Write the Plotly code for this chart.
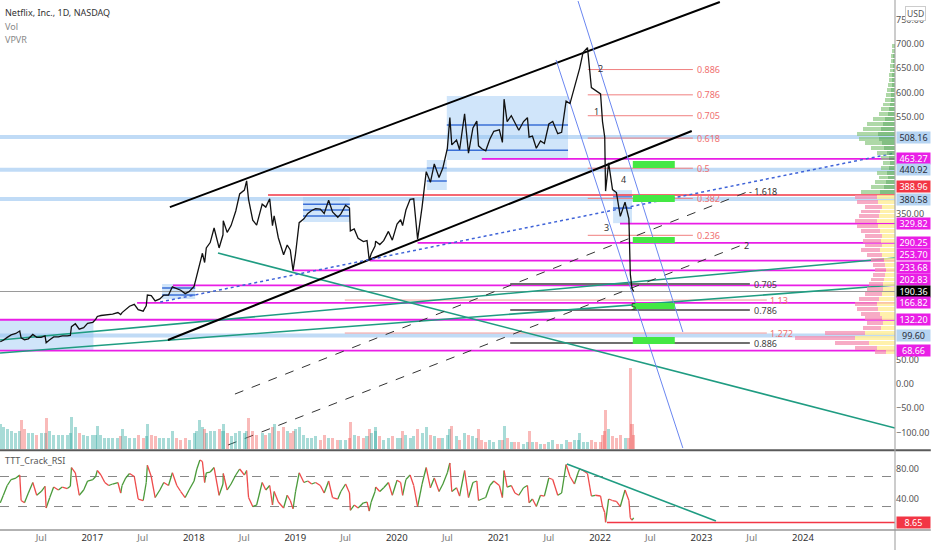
import plotly.graph_objects as go

# ---------------- price / volume / RSI (semi-monthly approximations) ----------------
dates = [
    "2016-02-05","2016-02-16","2016-03-01","2016-03-15","2016-04-01","2016-04-15","2016-04-20","2016-05-02",
    "2016-05-16","2016-06-01","2016-06-15","2016-07-01","2016-07-15","2016-07-19","2016-08-01","2016-08-15",
    "2016-09-01","2016-09-15","2016-10-03","2016-10-14","2016-10-18","2016-11-01","2016-11-15","2016-12-01",
    "2016-12-15",
    "2017-01-03","2017-01-13","2017-01-19","2017-02-01","2017-02-15","2017-03-01","2017-03-15","2017-04-03",
    "2017-04-13","2017-04-18","2017-05-01","2017-05-15","2017-06-01","2017-06-15","2017-07-03","2017-07-14",
    "2017-07-18","2017-08-01","2017-08-15","2017-09-01","2017-09-15","2017-10-02","2017-10-16","2017-11-01",
    "2017-11-15","2017-12-01","2017-12-15",
    "2018-01-02","2018-01-12","2018-01-23","2018-02-01","2018-02-09","2018-02-15","2018-03-01","2018-03-15",
    "2018-04-02","2018-04-16","2018-04-17","2018-05-01","2018-05-15","2018-06-01","2018-06-15","2018-07-02",
    "2018-07-10","2018-07-17","2018-08-01","2018-08-15","2018-09-04","2018-09-17","2018-10-01","2018-10-11",
    "2018-10-17","2018-11-01","2018-11-20","2018-12-03","2018-12-14","2018-12-24",
    "2019-01-02","2019-01-15","2019-02-01","2019-02-15","2019-03-01","2019-03-15","2019-04-01","2019-04-15",
    "2019-05-01","2019-05-15","2019-06-03","2019-06-14","2019-07-01","2019-07-15","2019-07-18","2019-08-01",
    "2019-08-15","2019-09-03","2019-09-16","2019-09-24","2019-10-01","2019-10-15","2019-10-17","2019-11-01",
    "2019-11-15","2019-12-02","2019-12-16",
    "2020-01-02","2020-01-15","2020-01-22","2020-02-03","2020-02-18","2020-03-02","2020-03-16","2020-04-01",
    "2020-04-16","2020-05-01","2020-05-15","2020-06-01","2020-06-15","2020-07-01","2020-07-10","2020-07-17",
    "2020-08-03","2020-08-14","2020-09-01","2020-09-15","2020-10-01","2020-10-15","2020-10-21","2020-11-02",
    "2020-11-16","2020-12-01","2020-12-15",
    "2021-01-04","2021-01-15","2021-01-21","2021-02-01","2021-02-16","2021-03-01","2021-03-15","2021-04-01",
    "2021-04-15","2021-04-21","2021-05-03","2021-05-17","2021-06-01","2021-06-15","2021-07-01","2021-07-15",
    "2021-08-02","2021-08-16","2021-09-01","2021-09-15","2021-10-01","2021-10-15","2021-10-20","2021-11-01",
    "2021-11-17","2021-12-01","2021-12-15",
    "2022-01-03","2022-01-10","2022-01-18","2022-01-21","2022-02-01","2022-02-15","2022-03-01","2022-03-15",
    "2022-04-01","2022-04-15","2022-04-20","2022-04-26","2022-05-02",
]
close = [
    87, 90, 96, 101, 104, 109, 95, 91, 93, 102, 96, 96, 99, 85, 91, 97, 97, 99, 99, 100, 118, 124, 113, 116, 125,
    127, 133, 139, 141, 142, 142, 144, 147, 143, 147, 153, 160, 164, 153, 150, 161, 183, 182, 171, 175, 183, 183,
    200, 196, 193, 186, 190,
    201, 222, 250, 269, 250, 280, 291, 321, 280, 307, 336, 312, 326, 356, 391, 399, 418, 380, 337, 327, 370, 364,
    381, 326, 346, 301, 266, 286, 276, 233,
    268, 332, 340, 351, 357, 361, 360, 351, 378, 354, 343, 350, 368, 362, 315, 319, 300, 293, 295, 255, 268, 284,
    294, 287, 295, 314, 296,
    329, 338, 326, 358, 380, 381, 298, 364, 437, 415, 453, 425, 445, 485, 548, 492, 502, 482, 556, 475, 527, 541,
    490, 484, 480, 504, 520,
    523, 497, 586, 540, 552, 538, 522, 540, 548, 508, 510, 485, 500, 495, 535, 540, 515, 518, 582, 577, 610, 640,
    650, 682, 692, 610, 605,
    597, 540, 508, 397, 455, 400, 394, 345, 374, 340, 226, 197, 190.36,
]
volume = [
    14, 12, 11, 10, 9, 10, 16, 11, 9, 9, 8, 9, 9, 17, 10, 8, 8, 8, 8, 9, 18, 12, 9, 8, 7,
    8, 8, 13, 8, 6, 6, 6, 6, 7, 11, 7, 6, 6, 8, 6, 7, 14, 8, 7, 6, 6, 6, 10, 6, 5, 6, 5,
    9, 10, 16, 12, 11, 9, 10, 10, 11, 10, 14, 9, 7, 9, 10, 9, 10, 17, 10, 8, 9, 8, 9, 12, 14, 10, 12, 10, 9, 10,
    11, 12, 8, 6, 6, 7, 5, 8, 6, 6, 5, 5, 5, 6, 15, 8, 7, 6, 7, 11, 9, 10, 12, 7, 5, 6, 7,
    6, 6, 10, 8, 6, 7, 11, 9, 12, 8, 7, 6, 6, 8, 11, 13, 7, 5, 9, 8, 7, 6, 11, 5, 4, 5, 4,
    5, 5, 13, 6, 4, 4, 4, 3, 4, 10, 4, 4, 3, 3, 4, 5, 3, 3, 5, 4, 5, 5, 9, 4, 4, 5, 4,
    4, 8, 10, 22, 11, 7, 6, 8, 6, 6, 45, 14, 8,
]
rsi = [
    35, 45, 58, 66, 68, 72, 38, 35, 48, 62, 45, 50, 57, 28, 42, 56, 52, 56, 54, 57, 82, 75, 45, 52, 64,
    66, 70, 78, 72, 62, 58, 60, 62, 48, 58, 68, 74, 70, 40, 38, 62, 85, 70, 42, 52, 62, 58, 75, 58, 50, 42, 52,
    64, 80, 92, 90, 62, 75, 76, 82, 45, 60, 74, 52, 60, 72, 80, 72, 78, 42, 30, 32, 62, 52, 58, 32, 50, 36, 28,
    45, 38, 27,
    50, 75, 62, 64, 60, 62, 58, 48, 64, 42, 40, 50, 60, 48, 25, 32, 28, 35, 36, 24, 36, 50, 56, 50, 55, 62, 45,
    65, 62, 45, 66, 72, 58, 30, 60, 82, 55, 68, 50, 60, 75, 88, 50, 55, 44, 78, 42, 62, 64, 38, 40, 42, 58, 64,
    58, 42, 78, 56, 58, 48, 45, 55, 58, 35, 40, 30, 45, 44, 68, 66, 45, 48, 86, 70, 60, 76, 80, 78, 74, 44, 45,
    44, 30, 22, 9, 40, 38, 37, 30, 52, 38, 15, 12, 15,
]

# ---------------- volume profile (VPVR) ----------------
vp_price = [65, 75, 85, 95, 105, 115, 125, 135, 145, 155, 165, 175, 185, 195, 205, 215, 225, 235, 245, 255,
            265, 275, 285, 295, 305, 315, 325, 335, 345, 355, 365, 375, 385, 395, 405, 415, 425, 435, 445, 455,
            465, 475, 485, 495, 505, 515, 525, 535, 545, 555, 565, 575, 585, 595, 605, 615, 625, 635, 645, 655,
            665, 675, 685, 695]
vp_up = [9, 18, 26, 40, 30, 14, 12, 13, 15, 17, 18, 16, 13, 12, 12, 11, 10, 9, 10, 11,
         13, 15, 13, 14, 13, 15, 17, 18, 16, 15, 13, 17, 18, 15, 11, 9, 7, 8, 6, 5,
         6, 8, 11, 13, 16, 17, 14, 12, 10, 7, 6, 5, 4, 4, 4, 3, 3, 3, 2, 2, 2, 2, 1, 1]
vp_down = [11, 22, 34, 60, 40, 18, 16, 17, 19, 21, 22, 20, 17, 16, 14, 13, 12, 11, 12, 13,
           15, 19, 17, 18, 17, 19, 21, 22, 20, 19, 17, 21, 22, 19, 13, 11, 9, 10, 8, 7,
           8, 10, 13, 17, 20, 21, 18, 16, 12, 9, 8, 7, 6, 5, 4, 4, 3, 3, 3, 3, 2, 2, 2, 2]

# ---------------- drawings (data units: date, price) ----------------
channel_upper = (["2017-10-07", "2023-03-08"], [364, 786])
channel_mid = (["2017-09-30", "2022-11-27"], [90.5, 520.6])
teal_down = (["2018-03-29", "2024-11-27"], [269.5, -90.5])
teal_up_a = (["2016-02-04", "2024-11-27"], [90.5, 259.3])
teal_up_b = (["2016-02-04", "2024-11-27"], [63.8, 203.7])
blue_dotted = (["2017-09-02", "2024-11-27"], [168.7, 475.3])
dashed_1618 = (["2018-05-29", "2023-06-14"], [-20.6, 395.1])
dashed_2 = (["2018-05-04", "2023-05-27"], [-125.5, 286.0])
blue_ch_left = (["2021-07-27", "2022-10-26"], [666.7, -131.7])
blue_ch_right = (["2021-10-14", "2022-10-26"], [788, 107])

magenta_levels = [463.27, 329.82, 290.25, 253.70, 233.68, 202.83, 166.82, 132.20, 68.66]
magenta_starts = ["2020-11-02", "2022-03-14", "2020-03-16", "2019-09-26", "2018-12-24", "2017-10-18",
                  "2017-06-11", "2016-02-04", "2016-02-04"]
lightblue_levels = [508.16, 440.92, 380.58, 99.60]
red_level = 388.96
red_level_start = "2018-09-25"
last_price = 190.36

fib_red_labels = ["0.886", "0.786", "0.705", "0.618", "0.5", "0.382", "0.236"]
fib_red_prices = [647, 595, 552, 506, 444, 382, 306]
fib_red_span = ["2021-11-18", "2022-12-01"]
fib_red_label_x = "2022-12-10"

fib_gray_labels = ["0.705", "0.786", "0.886"]
fib_gray_prices = [205.8, 152.3, 84.4]
fib_gray_span = ["2021-02-12", "2023-06-24"]
fib_gray_label_x = "2023-06-30"

fib_ext_labels = ["1.13", "1.272"]
fib_ext_prices = [172.8, 104.9]
fib_ext_span = ["2019-06-28", "2023-08-24"]
fib_ext_label_x = "2023-08-30"

green_box_x = ["2022-04-29", "2022-09-27"]
green_box_y = [(444.4, 458.8), (374.5, 388.9), (290.1, 302.5), (154.3, 166.7), (82.3, 96.7)]

blue_boxes = [
    ("2016-02-04", "2017-01-05", 67.9, 131.7, []),
    ("2017-09-09", "2018-01-06", 174.9, 205.8, [183, 197.5]),
    ("2019-01-29", "2019-07-16", 333.3, 384.8, [345.7, 358, 370]),
    ("2020-04-18", "2020-06-29", 399.2, 460.9, [417.7, 444]),
    ("2020-06-29", "2021-09-08", 460.9, 592.6, [481, 533]),
    ("2022-02-17", "2022-04-26", 331, 399, [362, 384.8]),
]

wave_labels = ["1", "2", "3", "4", "5"]
wave_dates = ["2021-12-20", "2022-01-01", "2022-01-26", "2022-03-28", "2022-05-03"]
wave_prices = [561.7, 650, 323, 419.8, 160.5]

rsi_trend = (["2021-09-04", "2023-02-22"], [86.7, 10.7])
rsi_floor = (["2022-01-26", "2024-11-27"], [8.65, 8.65])
rsi_bands = [70, 30]

axis_labels = [508.16, 463.27, 440.92, 388.96, 380.58, 329.82, 290.25, 253.70, 233.68, 202.83,
               190.36, 166.82, 132.20, 99.60, 68.66]
axis_label_shift = {388.96: 8, 253.70: 6, 233.68: 3, 202.83: 6}
price_ticks = [-100, -50, 0, 50, 350, 550, 600, 650, 700, 750]

x_range = ["2016-02-04", "2024-11-27"]
tick_dates = ["2016-07-01", "2017-01-01", "2017-07-01", "2018-01-01", "2018-07-01", "2019-01-01", "2019-07-01",
              "2020-01-01", "2020-07-01", "2021-01-01", "2021-07-01", "2022-01-01", "2022-07-01", "2023-01-01",
              "2023-07-01", "2024-01-01"]
tick_text = ["Jul", "2017", "Jul", "2018", "Jul", "2019", "Jul", "2020", "Jul", "2021", "Jul", "2022", "Jul",
             "2023", "Jul", "2024"]

MAGENTA = "#e91ee6"
LIGHTBLUE = "#b6d4f2"
TEAL = "#1f9c82"
FONT = "Noto Sans"

fig = go.Figure()
shapes = []
annotations = []


def line(xs, ys, color, width=1.0, dash="solid", yaxis="y", opacity=1.0):
    fig.add_trace(go.Scatter(x=xs, y=ys, mode="lines", yaxis=yaxis, hoverinfo="skip", showlegend=False,
                             opacity=opacity, line=dict(color=color, width=width, dash=dash)))


# volume profile (horizontal bars from right edge)
up_colors = ["rgba(90,170,90,0.75)" if p >= 390 else "rgba(255,238,150,0.8)" for p in vp_price]
down_colors = ["rgba(140,200,130,0.7)" if p >= 390 else "rgba(244,143,177,0.75)" for p in vp_price]
fig.add_trace(go.Bar(x=vp_up, y=vp_price, orientation="h", xaxis="x2", yaxis="y", width=8,
                     marker=dict(color=up_colors, line=dict(width=0)), hoverinfo="skip", showlegend=False))
fig.add_trace(go.Bar(x=vp_down, y=vp_price, orientation="h", xaxis="x2", yaxis="y", width=8,
                     marker=dict(color=down_colors, line=dict(width=0)), hoverinfo="skip", showlegend=False))

# volume bars
vol_colors = ["rgba(38,166,154,0.4)" if i == 0 or close[i] >= close[i - 1] else "rgba(239,83,80,0.4)"
              for i in range(len(close))]
fig.add_trace(go.Bar(x=dates, y=volume, yaxis="y3", marker=dict(color=vol_colors, line=dict(width=0)),
                     width=11 * 86400000, hoverinfo="skip", showlegend=False))

# blue consolidation boxes
for x0, x1, y0, y1, inner in blue_boxes:
    shapes.append(dict(type="rect", xref="x", yref="y", x0=x0, x1=x1, y0=y0, y1=y1,
                       fillcolor="rgba(120,180,240,0.35)", line=dict(width=0), layer="below"))
    for lv in inner:
        line([x0, x1], [lv, lv], "#3b6fd6", 1.5)

# light blue levels
for lv in lightblue_levels:
    line(x_range, [lv, lv], "rgba(150,195,240,0.6)", 4)

# current price line
line(x_range, [last_price, last_price], "#9a9a9a", 1)

# magenta levels
for lv, st in zip(magenta_levels, magenta_starts):
    line([st, x_range[1]], [lv, lv], MAGENTA, 1.8)

# red level
line([red_level_start, x_range[1]], [red_level, red_level], "#f23645", 1.5)

# green target boxes
for y0, y1 in green_box_y:
    shapes.append(dict(type="rect", xref="x", yref="y", x0=green_box_x[0], x1=green_box_x[1], y0=y0, y1=y1,
                       fillcolor="#44e844", line=dict(width=0)))

# fib levels
for lab, p in zip(fib_red_labels, fib_red_prices):
    line(fib_red_span, [p, p], "#f07f7f", 1)
    annotations.append(dict(x=fib_red_label_x, y=p, xref="x", yref="y", text=lab, showarrow=False,
                            xanchor="left", font=dict(size=9, color="#f07070", family=FONT)))
for lab, p in zip(fib_gray_labels, fib_gray_prices):
    line(fib_gray_span, [p, p], "#6f6f6f", 1.8)
    annotations.append(dict(x=fib_gray_label_x, y=p, xref="x", yref="y", text=lab, showarrow=False,
                            xanchor="left", font=dict(size=9, color="#444", family=FONT)))
for lab, p in zip(fib_ext_labels, fib_ext_prices):
    line(fib_ext_span, [p, p], "#f29a9a", 1)
    annotations.append(dict(x=fib_ext_label_x, y=p, xref="x", yref="y", text=lab, showarrow=False,
                            xanchor="left", font=dict(size=9, color="#f07070", family=FONT)))

# trend lines
line(*teal_down, TEAL, 1.6)
line(*teal_up_a, TEAL, 1.6)
line(*teal_up_b, TEAL, 1.6)
line(*channel_upper, "#000", 2)
line(*channel_mid, "#000", 2)
line(*blue_dotted, "#3f63d8", 1.5, "dot")
line(*dashed_1618, "#333", 1, "dash")
line(*dashed_2, "#333", 1, "dash")
line(*blue_ch_left, "#6a86f0", 1)
line(*blue_ch_right, "#6a86f0", 1)
annotations.append(dict(x=dashed_1618[0][1], y=dashed_1618[1][1], xref="x", yref="y", text="- 1.618",
                        showarrow=False, xanchor="left", font=dict(size=9, color="#333", family=FONT)))
annotations.append(dict(x=dashed_2[0][1], y=dashed_2[1][1], xref="x", yref="y", text="2",
                        showarrow=False, xanchor="left", font=dict(size=9, color="#333", family=FONT)))

# price
line(dates, close, "#111", 1.3)

for t, d, p in zip(wave_labels, wave_dates, wave_prices):
    annotations.append(dict(x=d, y=p, xref="x", yref="y", text=t, showarrow=False,
                            font=dict(size=9, color="#333", family=FONT)))

# RSI pane
for lv in rsi_bands:
    line(x_range, [lv, lv], "#888", 1, "dash", yaxis="y2")
gx, gy, rx, ry = [], [], [], []
for i in range(1, len(rsi)):
    if rsi[i] >= rsi[i - 1]:
        gx += [dates[i - 1], dates[i], None]; gy += [rsi[i - 1], rsi[i], None]
    else:
        rx += [dates[i - 1], dates[i], None]; ry += [rsi[i - 1], rsi[i], None]
line(gx, gy, "#4a9a3a", 1.3, yaxis="y2")
line(rx, ry, "#ee4b4b", 1.3, yaxis="y2")
line(*rsi_trend, TEAL, 1.6, yaxis="y2")
line(*rsi_floor, "#f23645", 1.6, yaxis="y2")

# right axis price labels
for v in axis_labels:
    if v in (508.16, 440.92, 380.58, 99.60):
        bg, fc = LIGHTBLUE, "#2a2e39"
    elif v == 388.96:
        bg, fc = "#f23645", "#fff"
    elif v == 190.36:
        bg, fc = "#000", "#fff"
    else:
        bg, fc = MAGENTA, "#fff"
    annotations.append(dict(x=1, y=v, xref="paper", yref="y", text=f"{v:.2f}", showarrow=False,
                            xanchor="left", xshift=1, yshift=axis_label_shift.get(v, 0), bgcolor=bg,
                            width=33, height=11, borderpad=0, font=dict(size=9, color=fc, family=FONT)))
annotations.append(dict(x=1, y=8.65, xref="paper", yref="y2", text="8.65", showarrow=False, xanchor="left",
                        xshift=1, bgcolor="#f23645", width=33, height=11, borderpad=0,
                        font=dict(size=9, color="#fff", family=FONT)))

# header texts
annotations += [
    dict(x=0, y=1, xref="paper", yref="paper", xanchor="left", yanchor="top", xshift=3, yshift=-4,
         text="Netflix, Inc., 1D, NASDAQ", showarrow=False, font=dict(size=9, color="#333", family=FONT)),
    dict(x=0, y=1, xref="paper", yref="paper", xanchor="left", yanchor="top", xshift=3, yshift=-18,
         text="Vol", showarrow=False, font=dict(size=9, color="#888", family=FONT)),
    dict(x=0, y=1, xref="paper", yref="paper", xanchor="left", yanchor="top", xshift=3, yshift=-31,
         text="VPVR", showarrow=False, font=dict(size=9, color="#888", family=FONT)),
    dict(x=0, y=0.131, xref="paper", yref="paper", xanchor="left", yanchor="middle", xshift=3,
         text="TTT_Crack_RSI", showarrow=False, font=dict(size=9, color="#555", family=FONT)),
    dict(x=1, y=1, xref="paper", yref="paper", xanchor="left", yanchor="top", xshift=10, yshift=-6,
         text="USD", showarrow=False, bordercolor="#ccc", borderwidth=1, borderpad=1, bgcolor="white",
         font=dict(size=8.5, color="#555", family=FONT)),
]

# pane separators / axis lines
shapes += [
    dict(type="line", xref="paper", yref="paper", x0=0, x1=1.04, y0=0.1505, y1=0.1505,
         line=dict(color="#5a5a5a", width=2)),
    dict(type="line", xref="paper", yref="paper", x0=1, x1=1, y0=-0.04, y1=1, line=dict(color="#aaa", width=1.2)),
    dict(type="line", xref="paper", yref="paper", x0=0, x1=1.04, y0=0, y1=0, line=dict(color="#999", width=1.5)),
]

tick_text_fmt = [t if t == "Jul" else f"<span style='color:#333'>{t}</span>" for t in tick_text]

fig.update_layout(
    width=932, height=550, margin=dict(l=0, r=37, t=0, b=20, autoexpand=False),
    paper_bgcolor="white", plot_bgcolor="white", showlegend=False, barmode="stack", bargap=0,
    font=dict(family=FONT, size=10, color="#555"),
    xaxis=dict(type="date", range=x_range, domain=[0, 1], anchor="y2", showgrid=False, zeroline=False,
               tickvals=tick_dates, ticktext=tick_text_fmt, ticks="", tickfont=dict(size=9.5, color="#777"),
               showline=False, automargin=False),
    xaxis2=dict(overlaying="x", range=[895, 0], visible=False, anchor="y", automargin=False),
    yaxis=dict(domain=[0.1528, 1], range=[-133.7, 790.1], side="right", anchor="x", showgrid=False,
               zeroline=False, tickvals=price_ticks, tickformat=".2f", ticks="", automargin=False,
               tickfont=dict(size=9, color="#555")),
    yaxis2=dict(domain=[0, 0.1472], range=[-1.3, 102.7], side="right", anchor="x", showgrid=False,
                zeroline=False, tickvals=[40, 80], tickformat=".2f", ticks="", automargin=False,
                tickfont=dict(size=9, color="#555")),
    yaxis3=dict(overlaying="y", range=[0, 250], visible=False, automargin=False),
    shapes=shapes, annotations=annotations,
)

fig.write_html("out.html", config={"displayModeBar": False},
               post_script="document.body.style.margin='0px';document.body.style.overflow='hidden';")
